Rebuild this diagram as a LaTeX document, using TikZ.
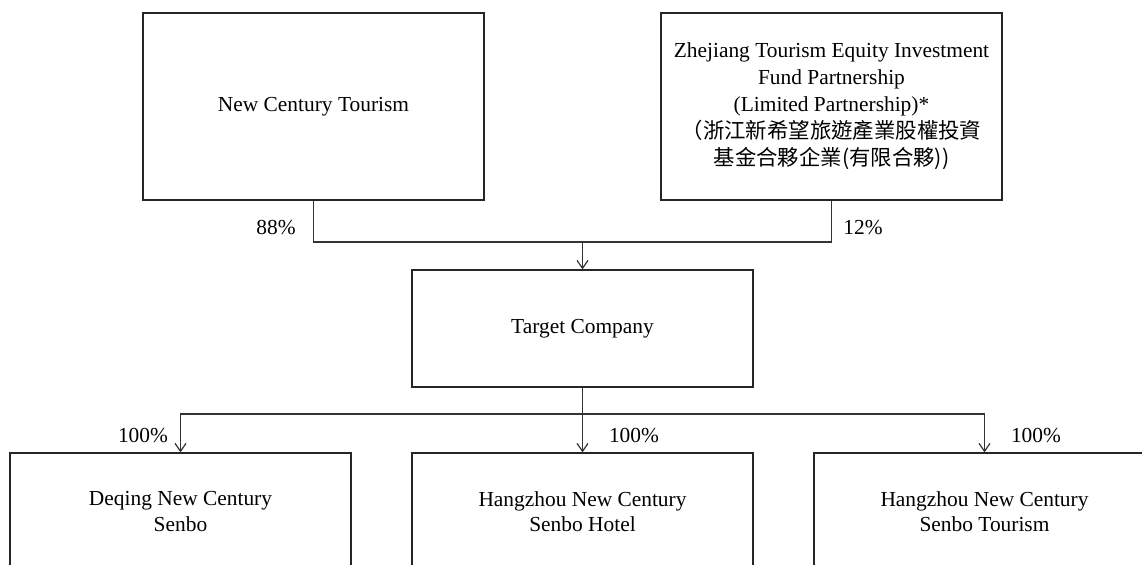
\documentclass[tikz,border=0pt]{standalone}
\usepackage{fontspec}
\setmainfont{Liberation Serif}
\newfontfamily\cjk{Noto Sans CJK TC}
\usetikzlibrary{arrows.meta}

\begin{document}
\begin{tikzpicture}[x=0.5pt, y=-0.5pt, >={Straight Barb[length=4pt, width=5.5pt]},
	entity/.style={
		% The shape:
		rectangle,
		% The size:
		minimum width=170.5pt, minimum height=58.5pt,
		% The border
		line width=0.6pt, draw=black!85,
		% The text
		align=center, inner sep=0pt, font=\fontsize{10.7}{12.8}\selectfont},
	pct/.style={inner sep=0pt, font=\fontsize{10.7}{12.8}\selectfont},
	link/.style={line width=0.6pt, draw=black!80}]
    \useasboundingbox (0,0) rectangle (1142,564);
    \clip (0,0) rectangle (1142,564);
    \node [entity, minimum height=93.5pt] (nct) at (313.5,106.5) {New Century Tourism};
    \node [entity, minimum height=93.5pt, font=\fontsize{10.7}{13.5}\selectfont] (zj) at (831.5,106.5) {Zhejiang Tourism Equity Investment\\Fund Partnership\\(Limited Partnership)*\\{\cjk （浙江新希望旅遊產業股權投資}\\{\cjk 基金合夥企業(有限合夥))}};
    \coordinate (join) at (582.5,242);
    \draw [link] (nct.south) |- (join) -| (zj.south);
    \node [pct] (p88) at (276,228) {88\%};
    \node [pct] (p12) at (863,228) {12\%};
    \node [entity] (tc) at (582.5,328.5) {Target Company};
    \draw [link, ->] (join) -- (tc.north);
    \coordinate (split) at (582.5,414);
    \draw [link] (tc.south) -- (split);
    \node [entity] (deq) at (180.5,511.5) {Deqing New Century\\Senbo};
    \node [entity] (hzh) at (582.5,511.5) {Hangzhou New Century\\Senbo Hotel};
    \node [entity] (hzt) at (984.5,511.5) {Hangzhou New Century\\Senbo Tourism};
    \draw [link, ->] (split) -| (deq.north);
    \draw [link, ->] (split) -- (hzh.north);
    \draw [link, ->] (split) -| (hzt.north);
    \node [pct] (pdeq) at (143,436) {100\%};
    \node [pct] (phzh) at (634,436) {100\%};
    \node [pct] (phzt) at (1036,436) {100\%};
\end{tikzpicture}
\end{document}
